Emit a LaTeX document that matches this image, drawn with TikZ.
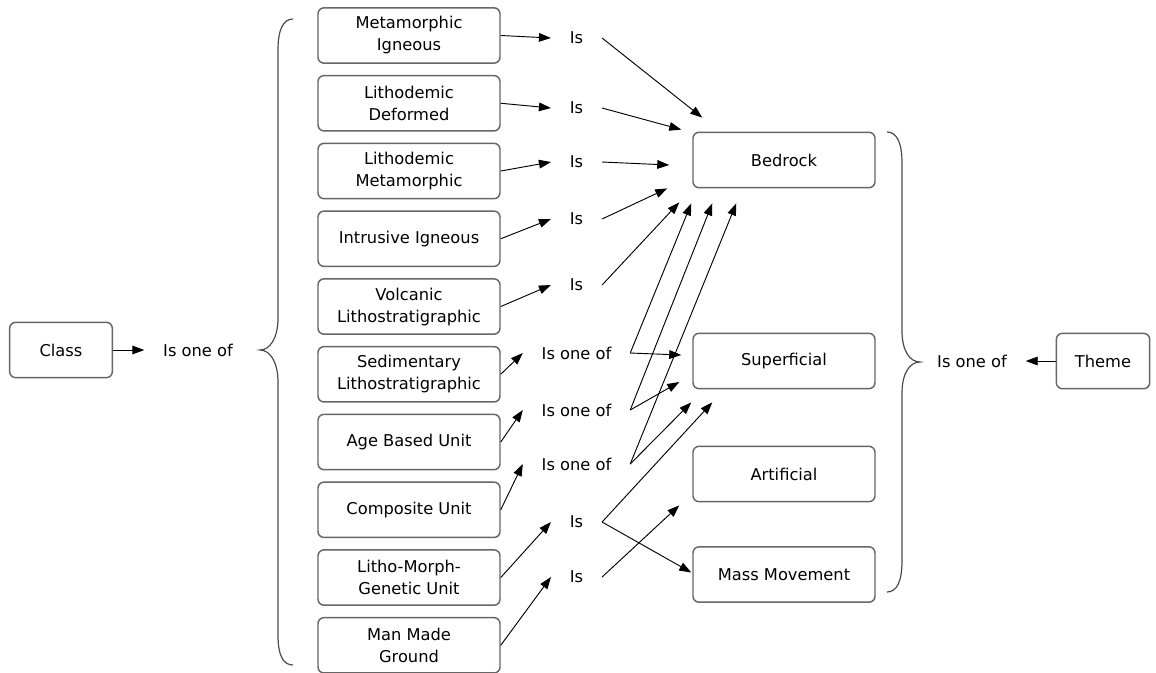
\documentclass[tikz,border=0pt]{standalone}
\usepackage{fontspec}
\setmainfont{DejaVu Sans}
\usetikzlibrary{positioning}
\usetikzlibrary{shapes,arrows.meta}
\tikzset{
    objRoundRectangle/.style={rectangle, rounded corners=4.5pt, minimum width=136.5pt, minimum height=41.5pt, align=center, draw=black!60, line width=1.1pt, font=\fontsize{12.2}{16.5}\selectfont},
    objLabel/.style={rectangle, inner xsep=14pt, inner ysep=2pt, font=\fontsize{12.2}{16.5}\selectfont},
    objBrace/.style={draw=black!70, line width=0.9pt},
    arrow/.style={line width=0.7pt, -{Triangle[length=9pt,width=6.5pt]}}
}
\begin{document}
\begin{tikzpicture}[x=0.75pt, y=-0.75pt, node distance=1.786cm]
    \useasboundingbox (0,0) rectangle (1156,672);

    \node (001) [objRoundRectangle, minimum width=77pt] at (61,350) {Class};
    \node (002) [objLabel] at (198,350) {Is one of};

    \node (101) [objRoundRectangle] at (409,35.5) {Metamorphic\\Igneous};
    \node (102) [objRoundRectangle, below of=101] {Lithodemic\\Deformed};
    \node (103) [objRoundRectangle, below of=102] {Lithodemic\\Metamorphic};
    \node (104) [objRoundRectangle, below of=103] {Intrusive Igneous};
    \node (105) [objRoundRectangle, below of=104] {Volcanic\\Lithostratigraphic};
    \node (106) [objRoundRectangle, below of=105] {Sedimentary\\Lithostratigraphic};
    \node (107) [objRoundRectangle, below of=106] {Age Based Unit};
    \node (108) [objRoundRectangle, below of=107] {Composite Unit};
    \node (109) [objRoundRectangle, below of=108] {Litho-Morph-\\Genetic Unit};
    \node (110) [objRoundRectangle, below of=109] {Man Made\\Ground};

    \node (201) [objLabel] at (576.5,38) {Is};
    \node (202) [objLabel] at (576.5,108) {Is};
    \node (203) [objLabel] at (576.5,162) {Is};
    \node (204) [objLabel] at (576.5,219) {Is};
    \node (205) [objLabel] at (576.5,285) {Is};
    \node (206) [objLabel] at (576.5,353) {Is one of};
    \node (207) [objLabel] at (576.5,410) {Is one of};
    \node (208) [objLabel] at (576.5,464) {Is one of};
    \node (209) [objLabel] at (576.5,522) {Is};
    \node (210) [objLabel] at (576.5,577) {Is};

    \node (301) [objRoundRectangle] at (784,160) {Bedrock};
    \node (302) [objRoundRectangle] at (784,361) {Superficial};
    \node (303) [objRoundRectangle] at (784,474) {Artificial};
    \node (304) [objRoundRectangle] at (784,574.5) {Mass Movement};

    \node (401) [objLabel] at (972,361) {Is one of};
    \node (402) [objRoundRectangle, minimum width=70pt] at (1103,361) {Theme};

    \draw [objBrace] (293,19) .. controls (283,19) and (278,30) .. (278,50) -- (278,318) .. controls (278,338) and (270,350) .. (260,350) .. controls (270,350) and (278,362) .. (278,382) -- (278,635) .. controls (278,655) and (283,665) .. (293,665);
    \draw [objBrace] (887,132) .. controls (897,132) and (902,143) .. (902,163) -- (902,331) .. controls (902,351) and (910,362) .. (920,362) .. controls (910,362) and (902,373) .. (902,393) -- (902,561) .. controls (902,581) and (897,592) .. (887,592);

    \draw [arrow] (001) -- (002);
    \draw [arrow] (402) -- (401);

    \draw [arrow] (101.east) -- (201.west);
    \draw [arrow] (102.east) -- (202.west);
    \draw [arrow] (103.east) -- (203.west);
    \draw [arrow] (104.east) -- (204.west);
    \draw [arrow] (105.east) -- (205.west);
    \draw [arrow] (106.east) -- (206.west);
    \draw [arrow] (107.east) -- (207.west);
    \draw [arrow] (108.east) -- (208.west);
    \draw [arrow] (109.east) -- (209.west);
    \draw [arrow] (110.east) -- (210.west);

    \draw [arrow] (201.east) -- ([shift={(10,-14)}]301.north west);
    \draw [arrow] (202.east) -- ([shift={(-11,-2)}]301.north west);
    \draw [arrow] (203.east) -- ([shift={(-23,5)}]301.west);
    \draw [arrow] (204.east) -- ([shift={(-25,0)}]301.south west);
    \draw [arrow] (205.east) -- ([shift={(-13,14)}]301.south west);
    \draw [arrow] (206.east) -- ([shift={(-1,15)}]301.south west);
    \draw [arrow] (207.east) -- ([shift={(20,15)}]301.south west);
    \draw [arrow] (208.east) -- ([shift={(44,15)}]301.south west);
    \draw [arrow] (206.east) -- ([shift={(-11,-6)}]302.west);
    \draw [arrow] (207.east) -- ([shift={(-13,21)}]302.west);
    \draw [arrow] (208.east) -- ([shift={(-1,13)}]302.south west);
    \draw [arrow] (209.east) -- ([shift={(20,13)}]302.south west);
    \draw [arrow] (209.east) -- ([shift={(-1,-2)}]304.west);
    \draw [arrow] (210.east) -- ([shift={(-13,3)}]303.south west);

\end{tikzpicture}
\end{document}
